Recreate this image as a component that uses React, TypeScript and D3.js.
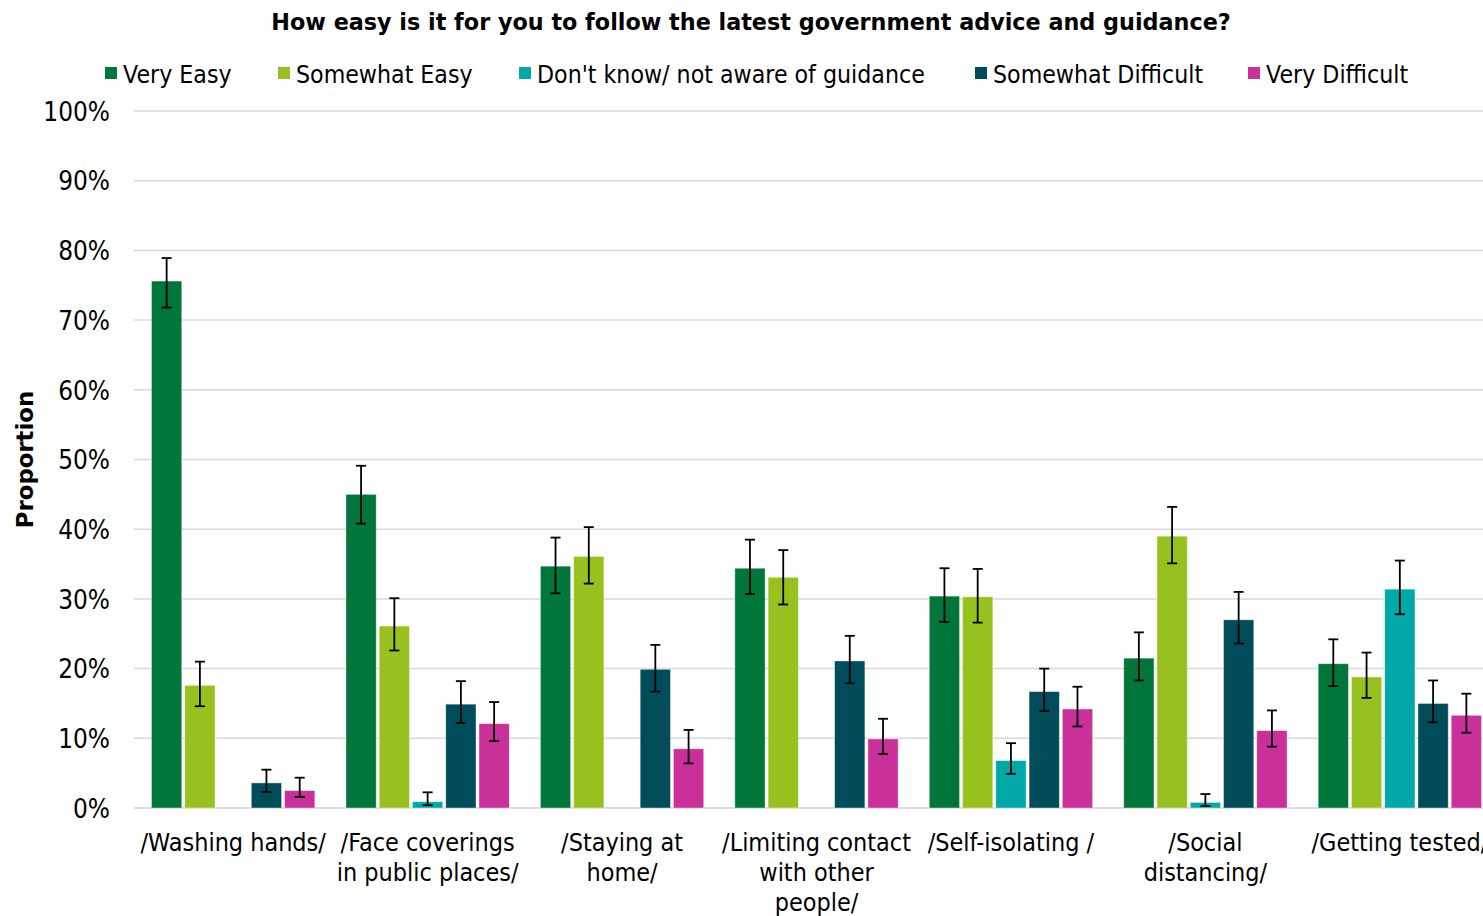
import React from "react";
import * as d3 from "d3";

const categories = [
  ["/Washing hands/"],
  ["/Face coverings", "in public places/"],
  ["/Staying at", "home/"],
  ["/Limiting contact", "with other", "people/"],
  ["/Self-isolating /"],
  ["/Social", "distancing/"],
  ["/Getting tested/"],
];
const seriesNames = ["Very Easy", "Somewhat Easy", "Don't know/ not aware of guidance", "Somewhat Difficult", "Very Difficult"];
const seriesColors = ["#00763a", "#97c11f", "#00a8a8", "#004c5a", "#c9309a"];

const veryEasy = [75.6, 45.0, 34.7, 34.4, 30.4, 21.5, 20.7];
const veryEasyLo = [71.8, 40.8, 30.8, 30.7, 26.7, 18.3, 17.5];
const veryEasyHi = [78.9, 49.1, 38.8, 38.5, 34.4, 25.2, 24.2];

const somewhatEasy = [17.6, 26.1, 36.1, 33.1, 30.3, 39.0, 18.8];
const somewhatEasyLo = [14.6, 22.6, 32.2, 29.2, 26.6, 35.1, 15.8];
const somewhatEasyHi = [21.0, 30.1, 40.3, 37.0, 34.3, 43.2, 22.3];

const dontKnow = [null, 0.9, null, null, 6.8, 0.8, 31.4];
const dontKnowLo = [null, 0.4, null, null, 4.9, 0.3, 27.8];
const dontKnowHi = [null, 2.25, null, null, 9.3, 2.0, 35.5];

const somewhatDifficult = [3.6, 14.9, 19.9, 21.1, 16.7, 27.0, 15.0];
const somewhatDifficultLo = [2.3, 12.2, 16.7, 17.9, 13.9, 23.6, 12.3];
const somewhatDifficultHi = [5.5, 18.2, 23.4, 24.7, 20.0, 31.0, 18.3];

const veryDifficult = [2.5, 12.1, 8.5, 9.9, 14.2, 11.1, 13.3];
const veryDifficultLo = [1.6, 9.6, 6.4, 7.75, 11.7, 8.8, 10.8];
const veryDifficultHi = [4.35, 15.2, 11.2, 12.8, 17.4, 14.0, 16.4];

const yTicks = [0, 10, 20, 30, 40, 50, 60, 70, 80, 90, 100];

const values = [veryEasy, somewhatEasy, dontKnow, somewhatDifficult, veryDifficult];
const lows = [veryEasyLo, somewhatEasyLo, dontKnowLo, somewhatDifficultLo, veryDifficultLo];
const highs = [veryEasyHi, somewhatEasyHi, dontKnowHi, somewhatDifficultHi, veryDifficultHi];

const W = 1483;
const H = 916;
const FONT = "'DejaVu Sans', Verdana, sans-serif";

function NarrowText({ x, y, size, anchor, sx = 0.88, children }: { x: number; y: number; size: number; anchor: string; sx?: number; children: React.ReactNode }) {
  return (
    <g transform={`translate(${x},${y}) scale(${sx},1)`}>
      <text x={0} y={0} fontSize={size} textAnchor={anchor as any} fill="#000">
        {children}
      </text>
    </g>
  );
}

export default function App() {
  const left = 134;
  const step = 195;
  const x0 = d3
    .scaleBand<number>()
    .domain(categories.map((_, i) => i))
    .range([left, left + step * categories.length])
    .paddingInner(0.16)
    .paddingOuter(0.09);
  const x1 = d3
    .scaleBand<number>()
    .domain(seriesNames.map((_, i) => i))
    .range([0, x0.bandwidth()])
    .paddingInner(0.09);
  const y = d3.scaleLinear().domain([0, 100]).range([808, 111]);

  const legendX = [105, 278, 519, 975, 1248];

  return (
    <svg
      width={W}
      height={H}
      style={{ position: "absolute", left: 0, top: 0, background: "#fff", fontFamily: FONT }}
    >
      <rect x={0} y={0} width={W} height={H} fill="#fff" />
      <text x={751} y={30} textAnchor="middle" fontSize={22.3} fontWeight="bold" fill="#000">
        How easy is it for you to follow the latest government advice and guidance?
      </text>
      {seriesNames.map((s, i) => (
        <g key={s}>
          <rect x={legendX[i]} y={67} width={12} height={12} fill={seriesColors[i]} />
          <NarrowText x={legendX[i] + 18} y={82.5} size={24.5} anchor="start" sx={0.905}>
            {s}
          </NarrowText>
        </g>
      ))}
      {yTicks.map((t) => (
        <g key={t}>
          <line
            x1={left}
            x2={W}
            y1={y(t)}
            y2={y(t)}
            stroke={t === 0 ? "#d0d0d0" : "#d9d9d9"}
            strokeWidth={1.5}
          />
          <NarrowText x={110} y={y(t) + 9.7} size={26.5} anchor="end">
            {t}%
          </NarrowText>
        </g>
      ))}
      <text
        transform={`translate(33, ${y(50)}) rotate(-90)`}
        textAnchor="middle"
        fontSize={22.8}
        fontWeight="bold"
        fill="#000"
      >
        Proportion
      </text>
      {categories.map((c, ci) => (
        <g key={ci} transform={`translate(${x0(ci)},0)`}>
          {values.map((vals, si) => {
            const v = vals[ci];
            if (v == null) return null;
            const bx = x1(si)!;
            const bw = x1.bandwidth();
            const cx = bx + bw / 2;
            const lo = lows[si][ci]!;
            const hi = highs[si][ci]!;
            return (
              <g key={si}>
                <rect
                  x={bx}
                  y={y(v)}
                  width={bw}
                  height={y(0) - y(v)}
                  fill={seriesColors[si]}
                  stroke="#ffffff"
                  strokeOpacity={0.5}
                  strokeWidth={0.8}
                />
                <line x1={cx} x2={cx} y1={y(hi)} y2={y(lo)} stroke="#000" strokeWidth={1.8} />
                <line x1={cx - 5} x2={cx + 5} y1={y(hi)} y2={y(hi)} stroke="#000" strokeWidth={1.8} />
                <line x1={cx - 5} x2={cx + 5} y1={y(lo)} y2={y(lo)} stroke="#000" strokeWidth={1.8} />
              </g>
            );
          })}
          {c.map((line, li) => (
            <NarrowText key={li} x={x0.bandwidth() / 2} y={851 + li * 30} size={25.5} anchor="middle">
              {line}
            </NarrowText>
          ))}
        </g>
      ))}
    </svg>
  );
}
